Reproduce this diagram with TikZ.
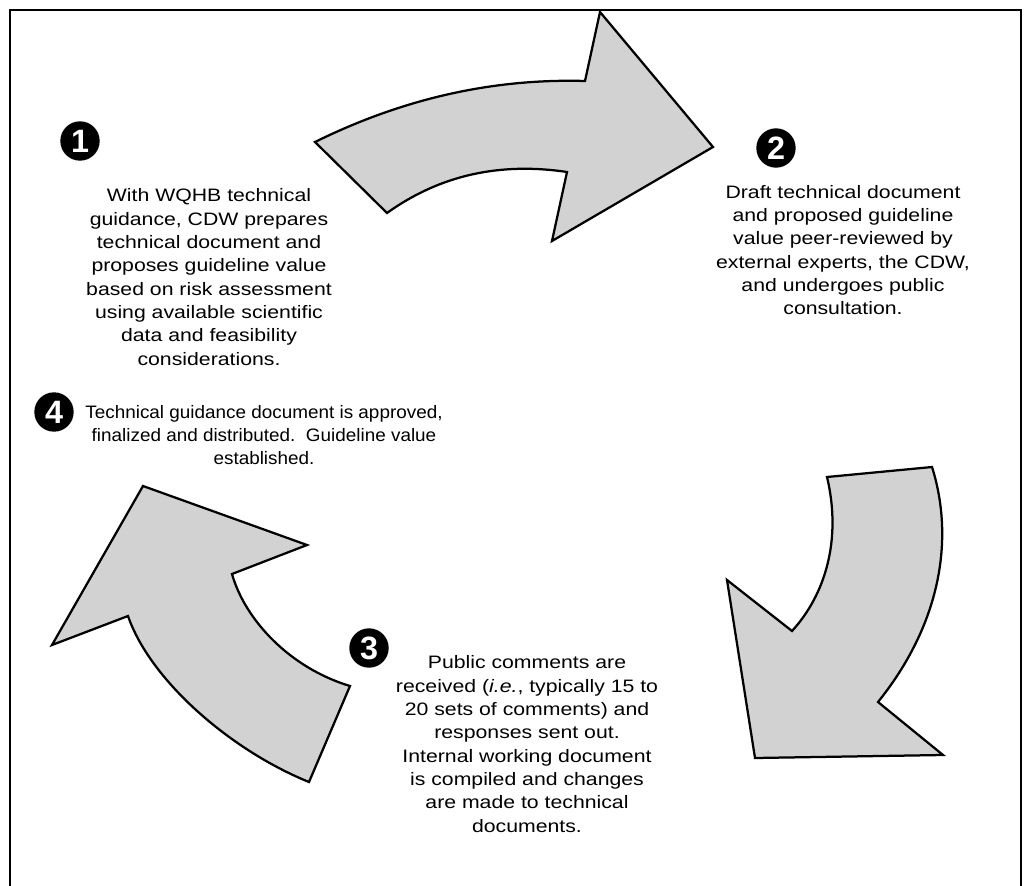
\documentclass[tikz,border=0pt]{standalone}
\usepackage{fontspec}
\setmainfont{Liberation Sans}
\newfontfamily\widefont[FakeStretch=1.18]{Liberation Sans}
\newfontfamily\lessfont[FakeStretch=1.05]{Liberation Sans}
\usetikzlibrary{positioning}

\tikzset{
  bigarrow/.style={draw=black, line width=1.6pt, fill=gray!35, line join=miter},
  numdot/.style={circle, fill=black, inner sep=0pt, minimum size=28pt,
    text=white, font=\fontsize{23}{23}\selectfont\bfseries},
  steptext/.style={align=center, inner sep=0pt, font=\widefont\fontsize{12.8}{16.6}\selectfont}
}

\begin{document}
\begin{tikzpicture}[x=0.025cm, y=-0.025cm]
  \useasboundingbox (0,0) rectangle (1032,886);
  % frame
  \draw[line width=2pt] (10,886) -- (10,10) -- (1021,10) -- (1021,886);

  % the three curved arrows
  \draw[bigarrow] (315,142) .. controls (390,105) and (480,78) .. (585,81)
    -- (600,12) -- (713,147) -- (552,241) -- (567,172)
    .. controls (500,162) and (440,175) .. (387,213) -- cycle;
  \draw[bigarrow] (827,477) -- (932,467) .. controls (955,540) and (940,625) .. (878,702)
    -- (943,755) -- (755,758) -- (727,580) -- (792,631)
    .. controls (825,595) and (842,540) .. (827,477) -- cycle;
  \draw[bigarrow] (350,686) -- (309,782) .. controls (230,750) and (150,680) .. (128,616)
    -- (52,645) -- (143,486) -- (307,545) -- (232,574)
    .. controls (245,620) and (290,668) .. (350,686) -- cycle;

  % step numbers
  \node[numdot] (one) at (80,141) {1};
  \node[numdot] (two) at (776,148) {2};
  \node[numdot] (three) at (369,648) {3};
  \node[numdot] (four) at (54,412) {4};

  % step texts
  \node[steptext] (txtone) at (209,277) {With WQHB technical\\guidance, CDW prepares\\technical document and\\proposes guideline value\\based on risk assessment\\using available scientific\\data and feasibility\\considerations.};
  \node[steptext] (txttwo) at (843,250) {Draft technical document\\and proposed guideline\\value peer-reviewed by\\external experts, the CDW,\\and undergoes public\\consultation.};
  \node[steptext] (txtthree) at (527,744) {Public comments are\\received (\textit{i.e.}, typically 15 to\\20 sets of comments) and\\responses sent out.\\Internal working document\\is compiled and changes\\are made to technical\\documents.};
  \node[steptext, font=\lessfont\fontsize{12.8}{16.6}\selectfont] (txtfour) at (264,435) {Technical guidance document is approved,\\finalized and distributed.\ \ Guideline value\\established.};
\end{tikzpicture}
\end{document}
